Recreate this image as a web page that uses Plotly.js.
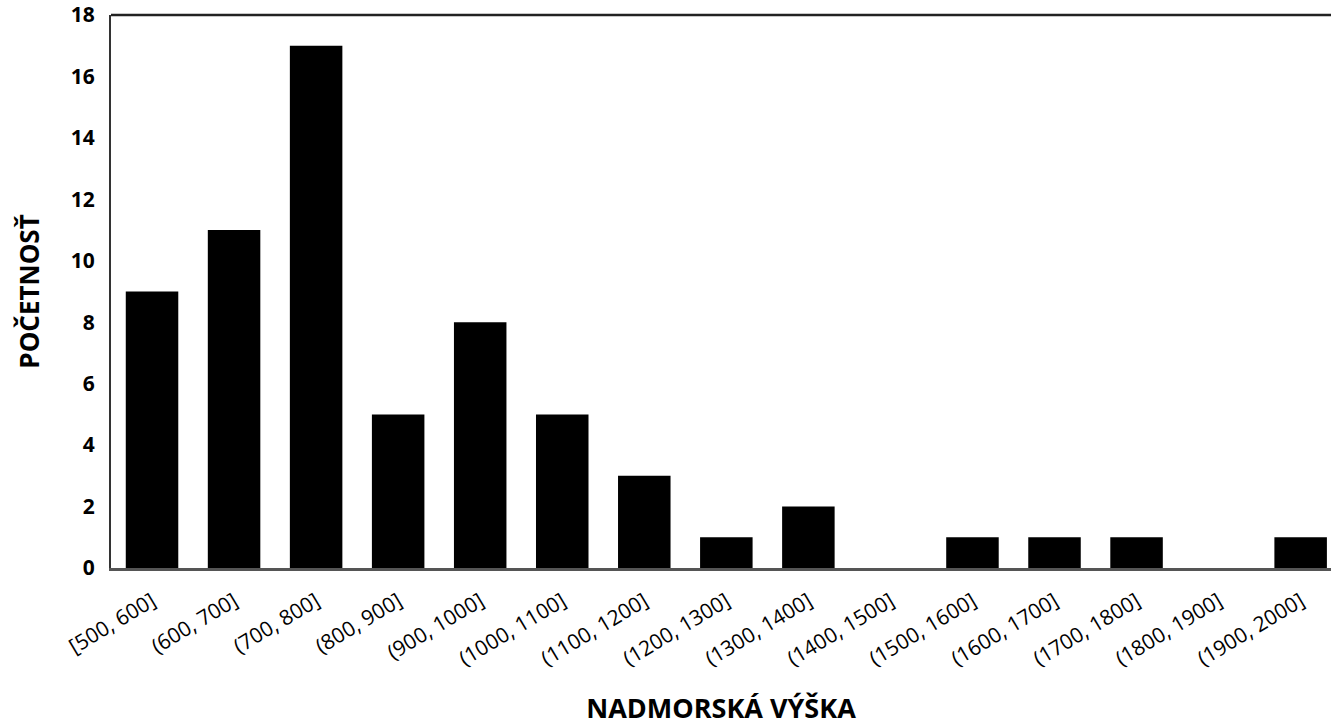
<!DOCTYPE html>
<html>
<head>
<meta charset="utf-8">
<script src="https://cdn.plot.ly/plotly-3.0.1.min.js"></script>
<style>html,body{margin:0;padding:0;background:#fff;}#chart{width:1331px;height:726px;}</style>
</head>
<body>
<div id="chart"></div>
<script>
const categories = ["[500, 600]", "(600, 700]", "(700, 800]", "(800, 900]", "(900, 1000]", "(1000, 1100]", "(1100, 1200]", "(1200, 1300]", "(1300, 1400]", "(1400, 1500]", "(1500, 1600]", "(1600, 1700]", "(1700, 1800]", "(1800, 1900]", "(1900, 2000]"];
const counts = [9, 11, 17, 5, 8, 5, 3, 1, 2, 0, 1, 1, 1, 0, 1];
const yTicks = [0, 2, 4, 6, 8, 10, 12, 14, 16, 18];
const xTitle = "NADMORSKÁ VÝŠKA";
const yTitle = "POČETNOSŤ";

const font = "Open Sans, Lato, sans-serif";

Plotly.newPlot("chart", [{
  type: "bar",
  x: categories,
  y: counts,
  marker: {color: "#000000", line: {color: "#000000", width: 0}},
  hoverinfo: "x+y"
}], {
  width: 1331,
  height: 726,
  margin: {l: 111, r: 0, t: 15, b: 158},
  paper_bgcolor: "#ffffff",
  plot_bgcolor: "#ffffff",
  bargap: 0.36,
  showlegend: false,
  xaxis: {
    type: "category",
    range: [-0.5, 14.37],
    tickangle: -31,
    tickfont: {family: font, size: 21, color: "#000"},
    showline: true,
    linecolor: "#555555",
    linewidth: 3,
    ticks: "",
    ticklabelstandoff: 10,
    showgrid: false,
    zeroline: false,
    title: {text: xTitle, font: {family: font, size: 27, color: "#000", weight: "bold"}, standoff: 40}
  },
  yaxis: {
    range: [0, 18],
    tickvals: yTicks,
    ticktext: yTicks.map(String),
    tickfont: {family: font, size: 21, color: "#000", weight: "bold"},
    showline: true,
    linecolor: "#333333",
    linewidth: 2,
    ticks: "",
    ticklabelstandoff: 10,
    showgrid: false,
    zeroline: false,
    title: {text: yTitle, font: {family: font, size: 26, color: "#000", weight: "bold"}, standoff: 24}
  },
  shapes: [{
    type: "line", xref: "paper", yref: "paper", x0: 0, x1: 1, y0: 1, y1: 1,
    line: {color: "#222222", width: 2.5}
  }]
}, {displayModeBar: false, staticPlot: true});
</script>
</body>
</html>
